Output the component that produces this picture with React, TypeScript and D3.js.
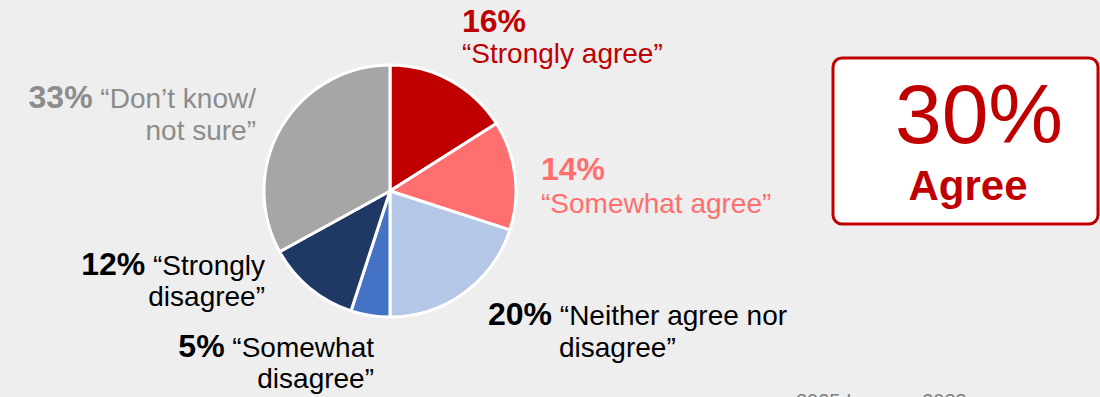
import React from "react";
import * as d3 from "d3";

const categories = [
  "Strongly agree",
  "Somewhat agree",
  "Neither agree nor disagree",
  "Somewhat disagree",
  "Strongly disagree",
  "Don't know/ not sure",
];
const values = [16, 14, 20, 5, 12, 33];
const agreeTotal = 30;
const agreeLabel = "Agree";

const palette = ["#C00000", "#FF6F6F", "#B4C7E7", "#4472C4", "#1F3864", "#A6A6A6"];
const textColors = ["#C00000", "#FF6F6F", "#000000", "#000000", "#000000", "#8C8C8C"];

type Lbl = { x: number; y: number; anchor: "start" | "end"; lines: string[]; pctInline: boolean; lineH: number };
const labelLayout: Lbl[] = [
  { x: 462, y: 32, anchor: "start", lines: ["\u201CStrongly agree\u201D"], pctInline: false, lineH: 31 },
  { x: 541, y: 180, anchor: "start", lines: ["\u201CSomewhat agree\u201D"], pctInline: false, lineH: 33 },
  { x: 488, y: 325, anchor: "start", lines: ["\u201CNeither agree nor", "disagree\u201D"], pctInline: true, lineH: 32 },
  { x: 374, y: 357, anchor: "end", lines: ["\u201CSomewhat", "disagree\u201D"], pctInline: true, lineH: 31 },
  { x: 265, y: 275, anchor: "end", lines: ["\u201CStrongly", "disagree\u201D"], pctInline: true, lineH: 31 },
  { x: 256, y: 108, anchor: "end", lines: ["\u201CDon\u2019t know/", "not sure\u201D"], pctInline: true, lineH: 32 },
];

const W = 1100;
const H = 397;
const FONT = "'Liberation Sans', Arial, sans-serif";
const PCT = 32;
const TXT = 28;

export default function App() {
  const cx = 390, cy = 191, r = 126;
  const pie = d3.pie<number>().sort(null).value((d) => d)(values);
  const arc = d3.arc<d3.PieArcDatum<number>>().innerRadius(0).outerRadius(r);

  return (
    <svg width={W} height={H} style={{ position: "fixed", left: 0, top: 0, display: "block" }} fontFamily={FONT}>
      <rect x={0} y={0} width={W} height={H} fill="#EEEEEE" />
      <g transform={`translate(${cx},${cy})`}>
        {pie.map((p, i) => (
          <path key={i} d={arc(p) || ""} fill={palette[i]} stroke="#FFFFFF" strokeWidth={3} strokeLinejoin="round" />
        ))}
      </g>
      {labelLayout.map((l, i) => {
        const pct = `${values[i]}%`;
        const col = textColors[i];
        if (!l.pctInline) {
          return (
            <g key={i} fill={col} fontSize={TXT}>
              <text x={l.x} y={l.y} fontWeight="bold" fontSize={PCT}>{pct}</text>
              <text x={l.x} y={l.y + l.lineH}>{l.lines[0]}</text>
            </g>
          );
        }
        if (l.anchor === "start") {
          return (
            <g key={i} fill={col} fontSize={TXT}>
              <text x={l.x} y={l.y}>
                <tspan fontWeight="bold" fontSize={PCT}>{pct}</tspan>
                <tspan>{" " + l.lines[0]}</tspan>
              </text>
              <text x={l.x + 71} y={l.y + l.lineH}>{l.lines[1]}</text>
            </g>
          );
        }
        return (
          <g key={i} fill={col} fontSize={TXT} textAnchor="end">
            <text x={l.x} y={l.y}>
              <tspan fontWeight="bold" fontSize={PCT}>{pct}</tspan>
              <tspan>{" " + l.lines[0]}</tspan>
            </text>
            <text x={l.x} y={l.y + l.lineH}>{l.lines[1]}</text>
          </g>
        );
      })}
      <rect x={833} y={58} width={265} height={166} rx={9} ry={9} fill="#FFFFFF" stroke="#C00000" strokeWidth={3} />
      <text x={979} y={143} textAnchor="middle" fontSize={84} fill="#C00000">{`${agreeTotal}%`}</text>
      <text x={968} y={200} textAnchor="middle" fontSize={42} fontWeight="bold" fill="#C00000">{agreeLabel}</text>
      <text x={796} y={408} fontSize={20} fill="#7F7F7F">2025 Ipsos n=2023</text>
    </svg>
  );
}
